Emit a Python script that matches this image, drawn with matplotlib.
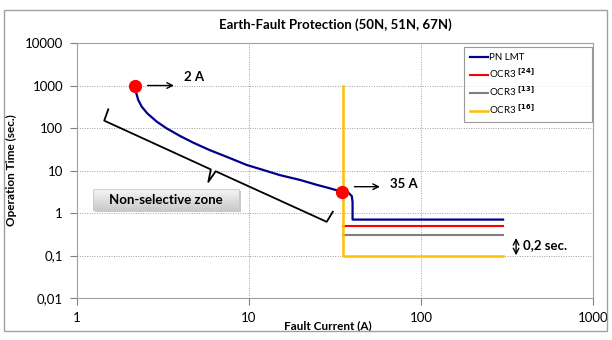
import numpy as np
import matplotlib.pyplot as plt
from matplotlib.patches import Rectangle
from matplotlib.ticker import FixedLocator, FixedFormatter

# ── Data ──
pn_current = [2.17, 2.20, 2.27, 2.38, 2.56, 2.91, 3.32, 3.97, 4.75, 5.93, 7.42,
              9.7, 12.1, 15.1, 19.8, 24.8, 29.6, 34.6, 38.0, 39.6, 40.0, 40.0, 300]
pn_time = [1000, 715, 456, 317, 222, 141, 98, 65, 45, 30, 21,
           13.5, 10.3, 7.8, 6.0, 4.6, 3.8, 3.17, 2.95, 2.5, 1.8, 0.7, 0.7]

ocr24_current = [35, 300]
ocr24_time = [0.5, 0.5]
ocr13_current = [35, 300]
ocr13_time = [0.3, 0.3]
ocr16_current = [35, 35, 300]
ocr16_time = [1000, 0.1, 0.1]

pickup_current = [2.17, 34.6]
pickup_time = [1000, 3.17]

yticks = [0.01, 0.1, 1, 10, 100, 1000, 10000]
ytick_labels = ['0,01', '0,1', '1', '10', '100', '1000', '10000']
xticks = [1, 10, 100, 1000]
xtick_labels = ['1', '10', '100', '1000']

# bracket of the non-selective zone (data coords)
brace_x = [1.52, 1.44, 6.0, 5.8, 6.4, 28.3, 30.7]
brace_y = [275, 149, 10.6, 5.4, 9.6, 0.62, 1.07]

plt.rcParams['font.family'] = ['Lato', 'DejaVu Sans']

fig = plt.figure(figsize=(6.12, 3.4), dpi=100)
ax = fig.add_axes([0.1258, 0.1235, 0.969 - 0.1258, 0.8735 - 0.1235])

# outer chart border
fig.patches.append(Rectangle((4 / 612, 1 - 331 / 340), 603 / 612, 321 / 340,
                             transform=fig.transFigure, fill=False,
                             edgecolor='#a0a0a0', lw=1))

ax.plot(pn_current, pn_time, color='#00008b', lw=1.6, label='PN LMT', zorder=4)
ax.plot(ocr24_current, ocr24_time, color='#ff0000', lw=1.5,
        label=r'OCR3 $^{\mathbf{[24]}}$', zorder=3)
ax.plot(ocr13_current, ocr13_time, color='#7f7f7f', lw=1.5,
        label=r'OCR3 $^{\mathbf{[13]}}$', zorder=3)
ax.plot(ocr16_current, ocr16_time, color='#ffc000', lw=1.8,
        label=r'OCR3 $^{\mathbf{[16]}}$', zorder=3)
ax.plot(pickup_current, pickup_time, 'o', color='#ff0000', ms=8.5, zorder=5)

ax.set_xscale('log')
ax.set_yscale('log')
ax.set_xlim(1, 1000)
ax.set_ylim(0.01, 10000)
ax.xaxis.set_major_locator(FixedLocator(xticks))
ax.xaxis.set_major_formatter(FixedFormatter(xtick_labels))
ax.yaxis.set_major_locator(FixedLocator(yticks))
ax.yaxis.set_major_formatter(FixedFormatter(ytick_labels))
ax.xaxis.set_minor_locator(FixedLocator([]))
ax.yaxis.set_minor_locator(FixedLocator([]))
ax.tick_params(labelsize=9.5, length=5, color='#808080', pad=5)
ax.grid(True, color='#a0a0a0', ls=(0, (1, 1.5)), lw=0.7)
for s in ax.spines.values():
    s.set_color('#a0a0a0')

ax.set_title('Earth-Fault Protection (50N, 51N, 67N)', fontsize=9.5,
             fontweight='bold', pad=10)
ax.set_xlabel('Fault Current (A)', fontsize=8.5, fontweight='bold', labelpad=2)
ax.xaxis.set_label_coords(0.487, -0.087)
ax.set_ylabel('Operation Time (sec.)', fontsize=8.5, fontweight='bold', labelpad=6)

# annotations
ax.annotate('', xy=(3.8, 1000), xytext=(2.48, 1000),
            arrowprops=dict(arrowstyle='->', color='black', lw=1))
ax.text(4.19, 1585, '2 A', fontsize=9.5, fontweight='bold', va='center')
ax.annotate('', xy=(59.9, 4.16), xytext=(39.5, 4.16),
            arrowprops=dict(arrowstyle='->', color='black', lw=1))
ax.text(66, 4.73, '35 A', fontsize=9.5, fontweight='bold', va='center')
ax.annotate('', xy=(357, 0.087), xytext=(357, 0.30),
            arrowprops=dict(arrowstyle='<->', color='black', lw=1))
ax.text(392, 0.177, '0,2 sec.', fontsize=9.5, fontweight='bold', va='center')

ax.plot(brace_x, brace_y, color='black', lw=1.3, zorder=3)

# "Non-selective zone" button with soft gradient and shadow (axes coords)
bx0, bx1, by0, by1 = 0.0316, 0.314, 0.345, 0.426
ax.add_patch(Rectangle((bx0 + 0.004, by0 - 0.008), bx1 - bx0, by1 - by0,
                       transform=ax.transAxes, facecolor='#c8c8c8',
                       edgecolor='none', zorder=3))
n_strips = 12
shades = np.linspace(0.95, 0.80, n_strips)
h = (by1 - by0) / n_strips
for i, g in enumerate(shades):
    ax.add_patch(Rectangle((bx0, by1 - (i + 1) * h), bx1 - bx0, h,
                           transform=ax.transAxes, facecolor=(g, g, g),
                           edgecolor='none', zorder=4))
ax.add_patch(Rectangle((bx0, by0), bx1 - bx0, by1 - by0, transform=ax.transAxes,
                       fill=False, edgecolor='#c8c8c8', lw=0.6, zorder=4))
ax.text((bx0 + bx1) / 2, (by0 + by1) / 2, 'Non-selective zone', fontsize=9.5,
        fontweight='bold', ha='center', va='center', transform=ax.transAxes,
        zorder=5)

leg = ax.legend(loc='upper left', bbox_to_anchor=(0.75, 0.706, 0.248, 0.278),
                mode='expand', fontsize=7, frameon=True, fancybox=False,
                edgecolor='#808080', handlelength=1.9, handletextpad=0.1,
                labelspacing=0.45, borderpad=0.6, borderaxespad=0)
leg.get_frame().set_linewidth(0.8)

plt.savefig('out.png', dpi=100)
